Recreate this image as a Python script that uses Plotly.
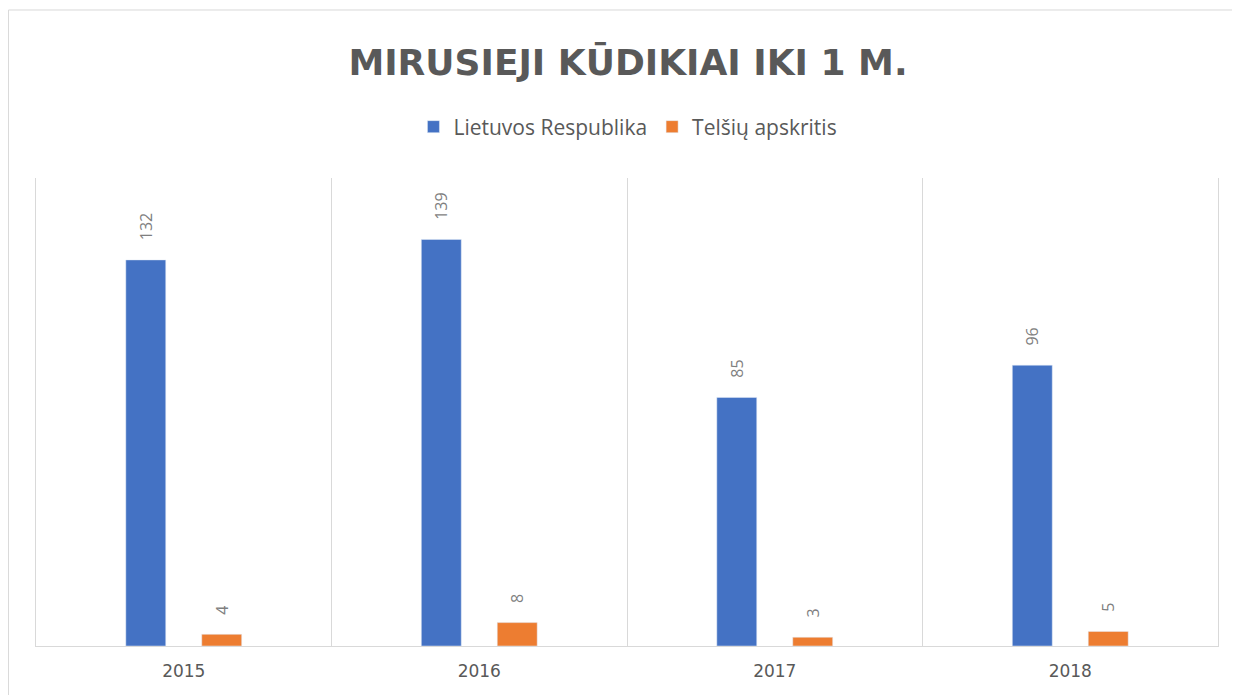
import plotly.graph_objects as go

years = ["2015", "2016", "2017", "2018"]
lietuva = [132, 139, 85, 96]
telsiai = [4, 8, 3, 5]
series_names = ["Lietuvos Respublika", "Telšių apskritis"]
title_text = "MIRUSIEJI KŪDIKIAI IKI 1 M."

label_font = dict(color="#7f7f7f", size=16, family="Open Sans")
pad = "\u00a0\u00a0\u00a0\u00a0"

fig = go.Figure()
fig.add_trace(go.Bar(x=years, y=lietuva, name=series_names[0], marker_color="#4472C4",
                     texttemplate=pad + "%{y}", textposition="outside", textangle=-90,
                     textfont=label_font, cliponaxis=False))
fig.add_trace(go.Bar(x=years, y=telsiai, name=series_names[1], marker_color="#ED7D31",
                     texttemplate=pad + "%{y}", textposition="outside", textangle=-90,
                     textfont=label_font, cliponaxis=False))

fig.update_layout(
    width=1240, height=695,
    paper_bgcolor="white", plot_bgcolor="white",
    margin=dict(l=28, r=30, t=170, b=57),
    barmode="group", bargap=0.486, bargroupgap=0.474,
    uniformtext=dict(minsize=16, mode="show"),
    title=dict(text=title_text, x=0.5, xanchor="center", y=0.922, yanchor="middle",
               font=dict(family="DejaVu Sans", size=36, color="#595959", weight="bold")),
    legend=dict(orientation="h", x=0.5008, xanchor="center", y=1.109, yanchor="middle",
                font=dict(family="Open Sans", size=21, color="#595959"),
                itemwidth=30, traceorder="normal"),
    xaxis=dict(type="category", range=[-0.5, 3.5], tickson="boundaries",
               showgrid=True, gridcolor="#d9d9d9", gridwidth=1,
               showline=True, linecolor="#d9d9d9", linewidth=1,
               ticks="", ticklabelstandoff=10,
               tickfont=dict(family="DejaVu Sans", size=17, color="#595959")),
    yaxis=dict(range=[0, 160], showgrid=False, zeroline=False, showticklabels=False,
               ticks="", showline=True, linecolor="#d9d9d9", linewidth=1, mirror=True),
    shapes=[dict(type="rect", xref="paper", yref="paper",
                 x0=-0.0233, x1=1.05, y0=-0.3, y1=1.359,
                 line=dict(color="#d9d9d9", width=1), fillcolor="rgba(0,0,0,0)", layer="below")],
)

fig.write_html("out.html")
